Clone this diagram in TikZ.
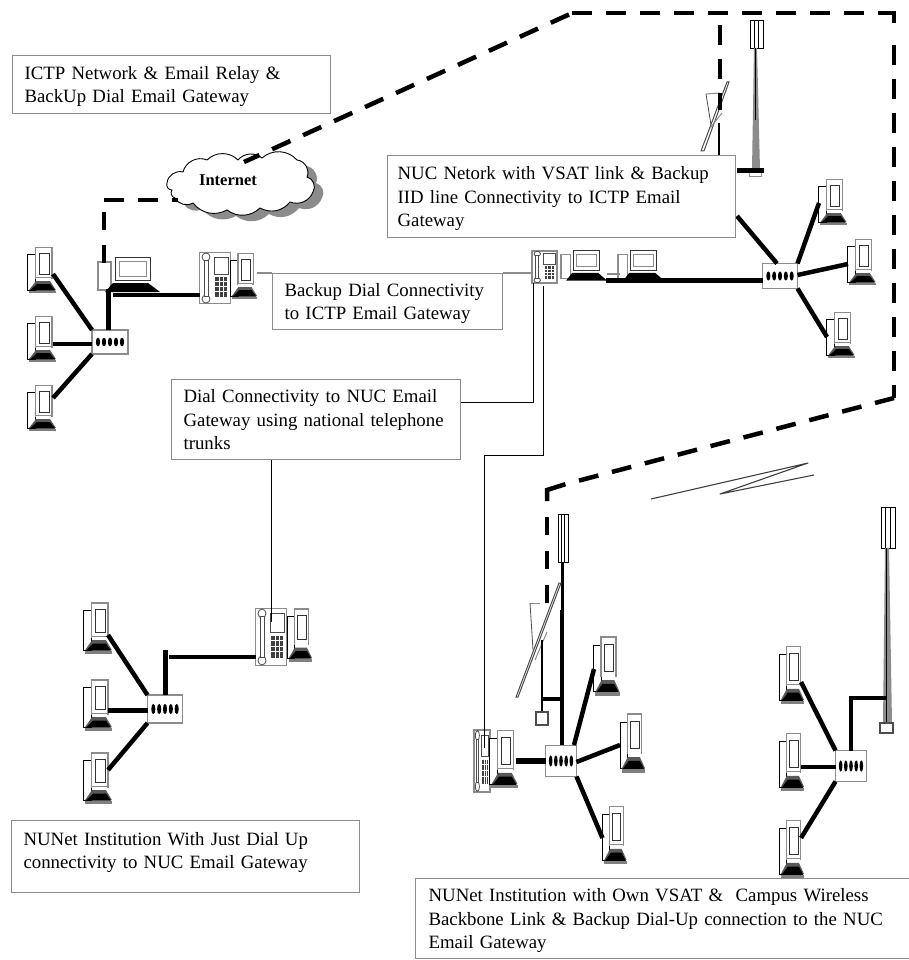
\documentclass[tikz,border=0pt]{standalone}
\usepackage{fontspec}
\setmainfont{Liberation Serif}
\usetikzlibrary{calc}
\definecolor{edgegray}{gray}{0.55}
\definecolor{basegray}{gray}{0.35}
\newcommand{\topstrut}{\rule{0pt}{17pt}}
\tikzset{
  txtbox/.style={draw=edgegray,line width=1.2pt,fill=white,anchor=north west,align=left,inner ysep=0pt,
    font=\fontsize{18.8}{23.6}\selectfont},
  iconbox/.style={inner sep=0pt,outer sep=0pt},
  hubbox/.style={draw=edgegray,line width=1.2pt,fill=white,inner sep=0pt,outer sep=0pt},
  heavy/.style={line width=4.5pt,black},
  thinlink/.style={line width=1pt,black},
  graylink/.style={line width=1.3pt,edgegray},
  dashlink/.style={line width=4.5pt,black,dash pattern=on 20pt off 14pt},
  solidhook/.style={line width=4.5pt,black,line join=miter},
  pcicon/.pic={
    \draw[black,line width=.8pt,fill=white] (-15,-16) rectangle (-6.5,20);
    \draw[edgegray,line width=1.4pt,fill=white] (-6.5,-22.5) rectangle (10,8);
    \draw[black!80,line width=.9pt,fill=white] (-3,-17) rectangle (7,4);
    \fill[white] (-6,8) rectangle (9,11);
    \fill[basegray] (-6,11) -- (8,11) -- (14,20) -- (-13,20) -- cycle;
    \fill[black] (-5,14) -- (8,14) -- (13,20.5) -- (-12,20.5) -- cycle;
    \fill[gray] (-13,20.5) rectangle (14,23);
  },
  phoneicon/.pic={
    \draw[edgegray,line width=1.2pt,fill=white] (-15.5,-25.5) rectangle (15.5,25.5);
    \draw[black!70,line width=.8pt,fill=white] (-9,-21) circle[x radius=4,y radius=4];
    \draw[black!70,line width=.8pt,fill=white] (-9,21) circle[x radius=4,y radius=4];
    \draw[black!70,line width=.8pt,fill=white] (-11,-18) -- (-11,18) -- (-7,18) -- (-7,-18) -- cycle;
    \draw[black!70,line width=.8pt,fill=white] (-1,-21) rectangle (13,-4);
    \fill[black!75] (0,-1) rectangle (12,19);
    \foreach \u in {4,8}{\draw[white,line width=.7pt] (\u,-1) -- (\u,19);}
    \foreach \v in {3,8,13}{\draw[white,line width=.7pt] (0,\v) -- (12,\v);}
  },
  deskicon/.pic={
    \draw[edgegray,line width=1.2pt,fill=white] (-31,-13) rectangle (-18,15);
    \draw[black!80,line width=1pt,fill=white] (-14,-18) rectangle (21,5);
    \draw[edgegray,line width=1pt,fill=white] (-10,-14) rectangle (17,1);
    \fill[black] (-16,8) -- (19,8) -- (31,17) -- (-24,17) -- cycle;
  },
  hubicon/.pic={
    \foreach \u in {-12,-6,0,6,12}{\fill[black] (\u,0) circle[x radius=2.1,y radius=4.4];}
  },
}
\newcommand{\pcat}[5]{\node[iconbox,minimum width=#4pt,minimum height=#5pt] (#1) at (#2,#3) {};
  \pic[xscale={#4/30},yscale={#5/46}] at (#1.center) {pcicon};}
\newcommand{\phoneat}[5]{\node[iconbox,minimum width=#4pt,minimum height=#5pt] (#1) at (#2,#3) {};
  \pic[xscale={#4/31},yscale={#5/51}] at (#1.center) {phoneicon};}
\newcommand{\deskat}[5]{\node[iconbox,minimum width=#4pt,minimum height=#5pt] (#1) at (#2,#3) {};
  \pic[xscale={#4/62},yscale={#5/35}] at (#1.center) {deskicon};}
\newcommand{\hubat}[5]{\node[hubbox,minimum width=#4pt,minimum height=#5pt] (#1) at (#2,#3) {};
  \pic[xscale={#4/36},yscale={#5/24}] at (#1.center) {hubicon};}
% name, x-left, x-right, y-top, y-antenna-bottom
\newcommand{\antenna}[5]{\node[iconbox,draw=black,line width=.8pt,fill=white,anchor=north west,minimum width={#3-#2},minimum height={#5-#4}] (#1) at (#2,#4) {};
  \foreach \u in {0.33,0.66}{\draw[black,line width=.8pt] ({#2+(#3-#2)*\u},#4) -- ({#2+(#3-#2)*\u},#5);}}
\newcommand{\cloudoutline}{(167,183) to[bend left=50] (183,172) to[bend left=50] (207,160) to[bend left=45] (238,160)
  to[bend left=45] (262,158) to[bend left=45] (297,160) to[bend left=55] (307,177) to[bend left=55] (313,192)
  to[bend left=45] (290,202) to[bend left=40] (260,208) to[bend left=40] (227,210) to[bend left=40] (193,203)
  to[bend left=45] (175,198) to[bend left=60] (172,190) to[bend left=60] (167,183) -- cycle}
\begin{document}
\begin{tikzpicture}[x=1pt,y=-1pt]
\useasboundingbox (0,0) rectangle (909,960);
\clip (0,0) rectangle (909,960);
\fill[white] (0,0) rectangle (909,960);

% --- icons: left network
\pcat{pa}{42}{270}{30}{46}
\pcat{pb}{42}{339}{30}{46}
\pcat{pc}{42}{408}{30}{46}
\hubat{hubA}{110}{342}{36}{24}
\deskat{deskA}{129}{275}{62}{35}
\phoneat{phoneA}{215}{278}{31}{51}
\pcat{pd}{244}{276}{28}{46}

% --- icons: NUC network
\phoneat{phoneB}{544.5}{267}{25}{32}
\deskat{deskB}{584}{266}{46}{30}
\deskat{deskC}{641}{266}{46}{30}
\hubat{hubB}{780}{276}{35}{25}
\pcat{pe}{833}{202}{29}{46}
\pcat{pf}{862}{262}{29}{46}
\pcat{pg}{841}{335}{29}{46}

% --- top tower
\antenna{antB}{750}{763}{20}{48}
\fill[edgegray] (754,48) -- (757,48) -- (760,170) -- (752,170) -- cycle;
\draw[black,line width=1.5pt] (755.5,48) -- (755.5,120);
\draw[edgegray,line width=1pt] (749,170) rectangle (761,177);
\coordinate (baseB) at (764,171);

% --- top dish
\draw[edgegray,line width=1pt] (706,94) -- (720,93);
\draw[black!70,line width=.8pt] (706,94) -- (711,125);
\draw[black,line width=1.2pt] (719,123) -- (719,160);
\draw[black!70,line width=1pt,fill=white] (701,151) -- (727,82) -- (729,82) -- (704,151) -- cycle;
\draw[edgegray,line width=1pt] (710,128) -- (722,113);

% --- lower-left network
\pcat{ph}{98}{628}{30}{51}
\pcat{pi}{98}{705}{30}{51}
\pcat{pj}{98}{778}{30}{51}
\hubat{hubC}{165}{709}{35}{28}
\phoneat{phoneC}{271}{637}{31}{57}
\pcat{pk}{300}{635}{26}{53}

% --- lower-middle network
\phoneat{phoneD}{482}{761}{16}{62}
\pcat{pl}{504}{759}{29}{58}
\hubat{hubD}{561}{761}{31}{31}
\pcat{pm}{607}{666}{27}{59}
\pcat{pn}{633}{743}{26}{59}
\pcat{po}{615}{835}{25}{58}
\antenna{antD}{558}{568}{514}{562}
\draw[edgegray,line width=1pt] (561,562) -- (561,745);
\draw[black,line width=3pt] (562,562) -- (562,610);
\draw[edgegray,line width=1pt] (530,603) -- (540,603);
\draw[black!70,line width=.8pt] (530,603) -- (533,650);
\draw[black!70,line width=1pt,fill=white] (516,697) -- (559,583) -- (561,583) -- (518,697) -- cycle;
\draw[edgegray,line width=1pt] (535,660) -- (547,632);
\draw[black,line width=1.4pt] (542,640) -- (542,712);
\node[hubbox,draw=black!70,minimum width=12pt,minimum height=13pt,anchor=north west] (boxD) at (536,712) {};

% --- lower-right network
\pcat{pp}{792}{675}{26}{58}
\pcat{pq}{792}{762}{26}{58}
\pcat{pr}{792}{849}{26}{58}
\hubat{hubE}{851}{766}{31}{31}
\antenna{antE}{881}{895}{507}{548}
\fill[edgegray] (885,548) -- (889,548) -- (892,723) -- (883,723) -- cycle;
\draw[black,line width=1pt] (886,548) -- (886,723);
\node[hubbox,draw=black!70,minimum width=13pt,minimum height=10pt,anchor=north west] (boxE) at (880,723) {};

% --- heavy connectors
\draw[heavy] ([shift={(11,4)}]pa.center) -- (hubA.north west);
\draw[heavy] ([shift={(11,5)}]pb.center) -- (hubA.west|-0,344);
\draw[heavy] ([shift={(11,-10)}]pc.center) -- (hubA.south west);
\coordinate (jA) at (108,289);
\draw[line width=5pt] (108,330) -- (jA);
\coordinate (jAh) at (113,295);
\draw[line width=4pt] (jAh) -- (phoneA.west|-jAh);
\coordinate (jB) at (606,280);
\draw[line width=5pt] (jB) -- (hubB.west|-jB);
\draw[heavy] (737,216) -- ([xshift=-3pt]hubB.north);
\draw[heavy] (hubB.north east) -- ([shift={(-14,1)}]pe.center);
\draw[heavy] ([yshift=1pt]hubB.east) -- ([shift={(-14,2)}]pf.center);
\draw[heavy] (hubB.south east) -- ([shift={(-14,2)}]pg.center);
\draw[line width=5pt] (baseB) -- (737,171);
\draw[heavy] ([shift={(10,7)}]ph.center) -- (hubC.north west);
\draw[line width=5pt] ([shift={(10,5)}]pi.center) -- (hubC.west|-0,710);
\draw[heavy] ([shift={(10,-8)}]pj.center) -- (hubC.south west);
\coordinate (jC) at (165,650);
\draw[line width=5pt] (hubC.north) -- (jC);
\coordinate (jCh) at (169,657);
\draw[line width=4pt] (jCh) -- (phoneC.west|-jCh);
\draw[line width=6pt] ([xshift=-3pt]pl.east|-hubD.west) -- (hubD.west);
\draw[line width=4.5pt] (562,610) -- (562,745);
\draw[line width=4pt] (541,699) -- (562,699);
\draw[heavy] ([shift={(-1,-16)}]hubD.center) ++(14,0) -- ([shift={(-13,3)}]pm.center);
\draw[heavy] ([yshift=-1pt]hubD.east) -- ([shift={(-13,2)}]pn.center);
\draw[heavy] (hubD.south east) -- ([shift={(-12.5,3)}]po.center);
\draw[heavy] ([shift={(9,7)}]pp.center) -- (hubE.north west);
\draw[line width=4pt] ([shift={(9,5)}]pq.center) -- (hubE.west|-0,767);
\draw[heavy] ([shift={(9,-11)}]pr.center) -- (hubE.south west);
\coordinate (jE) at (851,698);
\draw[line width=3.5pt,line join=miter] (hubE.north) -- (jE) -- (886,698);

% --- cloud
\fill[black!45,shift={(9,6)}] \cloudoutline;
\draw[black,line width=.9pt,fill=white] \cloudoutline;
\node[inner sep=0pt,font=\fontsize{16.5}{18}\selectfont\bfseries] (inet) at (228,180) {Internet};

% --- dashed connectors
\coordinate (d1) at (572,13);
\coordinate (d1b) at (864,13);
\coordinate (d2a) at (878,13);
\coordinate (d2) at (894,13);
\coordinate (d2b) at (894,23);
\coordinate (d2c) at (894,45);
\coordinate (d3) at (894,398);
\coordinate (d4a) at (547,501);
\coordinate (d4) at (547,490);
\coordinate (d4b) at (565.4,484.2);
\coordinate (d4c) at (579,480.6);
\coordinate (d5) at (547,603);
\coordinate (d5b) at (547,515);
\coordinate (d6) at (720,25);
\coordinate (d7) at (720,110);
\coordinate (d8) at (104,200);
\coordinate (d9) at (104,263);
\coordinate (d9b) at (104,212);
\coordinate (inetA) at (244,162);
\coordinate (inetB) at (178,200);
\draw[dashlink] (569,14.5) -- (inetA);
\draw[dashlink] (d1) -- (d1b);
\draw[solidhook] (d2a) -- (d2) -- (d2b);
\draw[dashlink] (d2c) -- (d3);
\draw[dashlink] (d4c) -- (d3);
\draw[solidhook] (d4a) -- (d4) -- (d4b);
\draw[dashlink,dash pattern=on 18pt off 16pt] (d5) -- (d5b);
\draw[dashlink] (d6) -- (d7);
\draw[dashlink,dash pattern=on 18pt off 15pt] (d9) -- (d9b);
\draw[dashlink] (d8) -- (inetB);

% --- wireless zigzag
\coordinate (z1) at (651,499);
\coordinate (z2) at (808,463);
\coordinate (z3) at (720,494);
\coordinate (z4) at (814,475);
\draw[black!75,line width=1.1pt,line join=round] (z1) -- (z2) -- (z3) -- (z4);

% --- text boxes
\node[txtbox,minimum width=318pt,minimum height=58pt,text width=294pt,inner xsep=12pt] (tICTP) at (12,55)
  {\topstrut ICTP Network \& Email Relay \&\\BackUp Dial Email Gateway};
\node[txtbox,minimum width=348pt,minimum height=82pt,text width=328pt,inner xsep=10pt] (tNUC) at (387,155)
  {\topstrut NUC Netork with VSAT link \& Backup\\IID line Connectivity to ICTP Email\\Gateway};
\node[txtbox,minimum width=230pt,minimum height=56pt,text width=206pt,inner xsep=12pt] (tBack) at (272,273)
  {\topstrut Backup Dial Connectivity\\to ICTP Email Gateway};
\node[txtbox,minimum width=289pt,minimum height=80pt,text width=265pt,inner xsep=12pt] (tDial) at (171,379)
  {Dial Connectivity to NUC Email\\Gateway using national telephone\\trunks};
\node[txtbox,minimum width=348pt,minimum height=72pt,text width=324pt,inner xsep=12pt] (tJust) at (11,820)
  {NUNet Institution With Just Dial Up\\connectivity to NUC Email Gateway\rule[-12pt]{0pt}{12pt}};
\node[txtbox,minimum width=515pt,minimum height=80pt,text width=489pt,inner xsep=13pt] (tOwn) at (415,878)
  {\topstrut NUNet Institution with Own VSAT \&\ \ Campus Wireless\\Backbone Link \& Backup Dial-Up connection to the NUC\\Email Gateway};

% --- thin connectors
\draw[graylink] ([xshift=-1pt]pd.east|-tBack.north) -- (tBack.north west);
\draw[graylink] (tBack.north east) -- (phoneB.west|-tBack.north);
\draw[graylink] (607,274) -- (620,274);
\coordinate (t1) at (533,402);
\draw[thinlink] (533,283) -- (t1) -- (tDial.east|-t1);
\coordinate (t2) at (543,455);
\coordinate (t3) at (484,455);
\draw[thinlink] (543,286) -- (t2) -- (t3) -- (484,748);
\draw[thinlink] (tDial.south-|271,0) -- (271,622);
\end{tikzpicture}
\end{document}
